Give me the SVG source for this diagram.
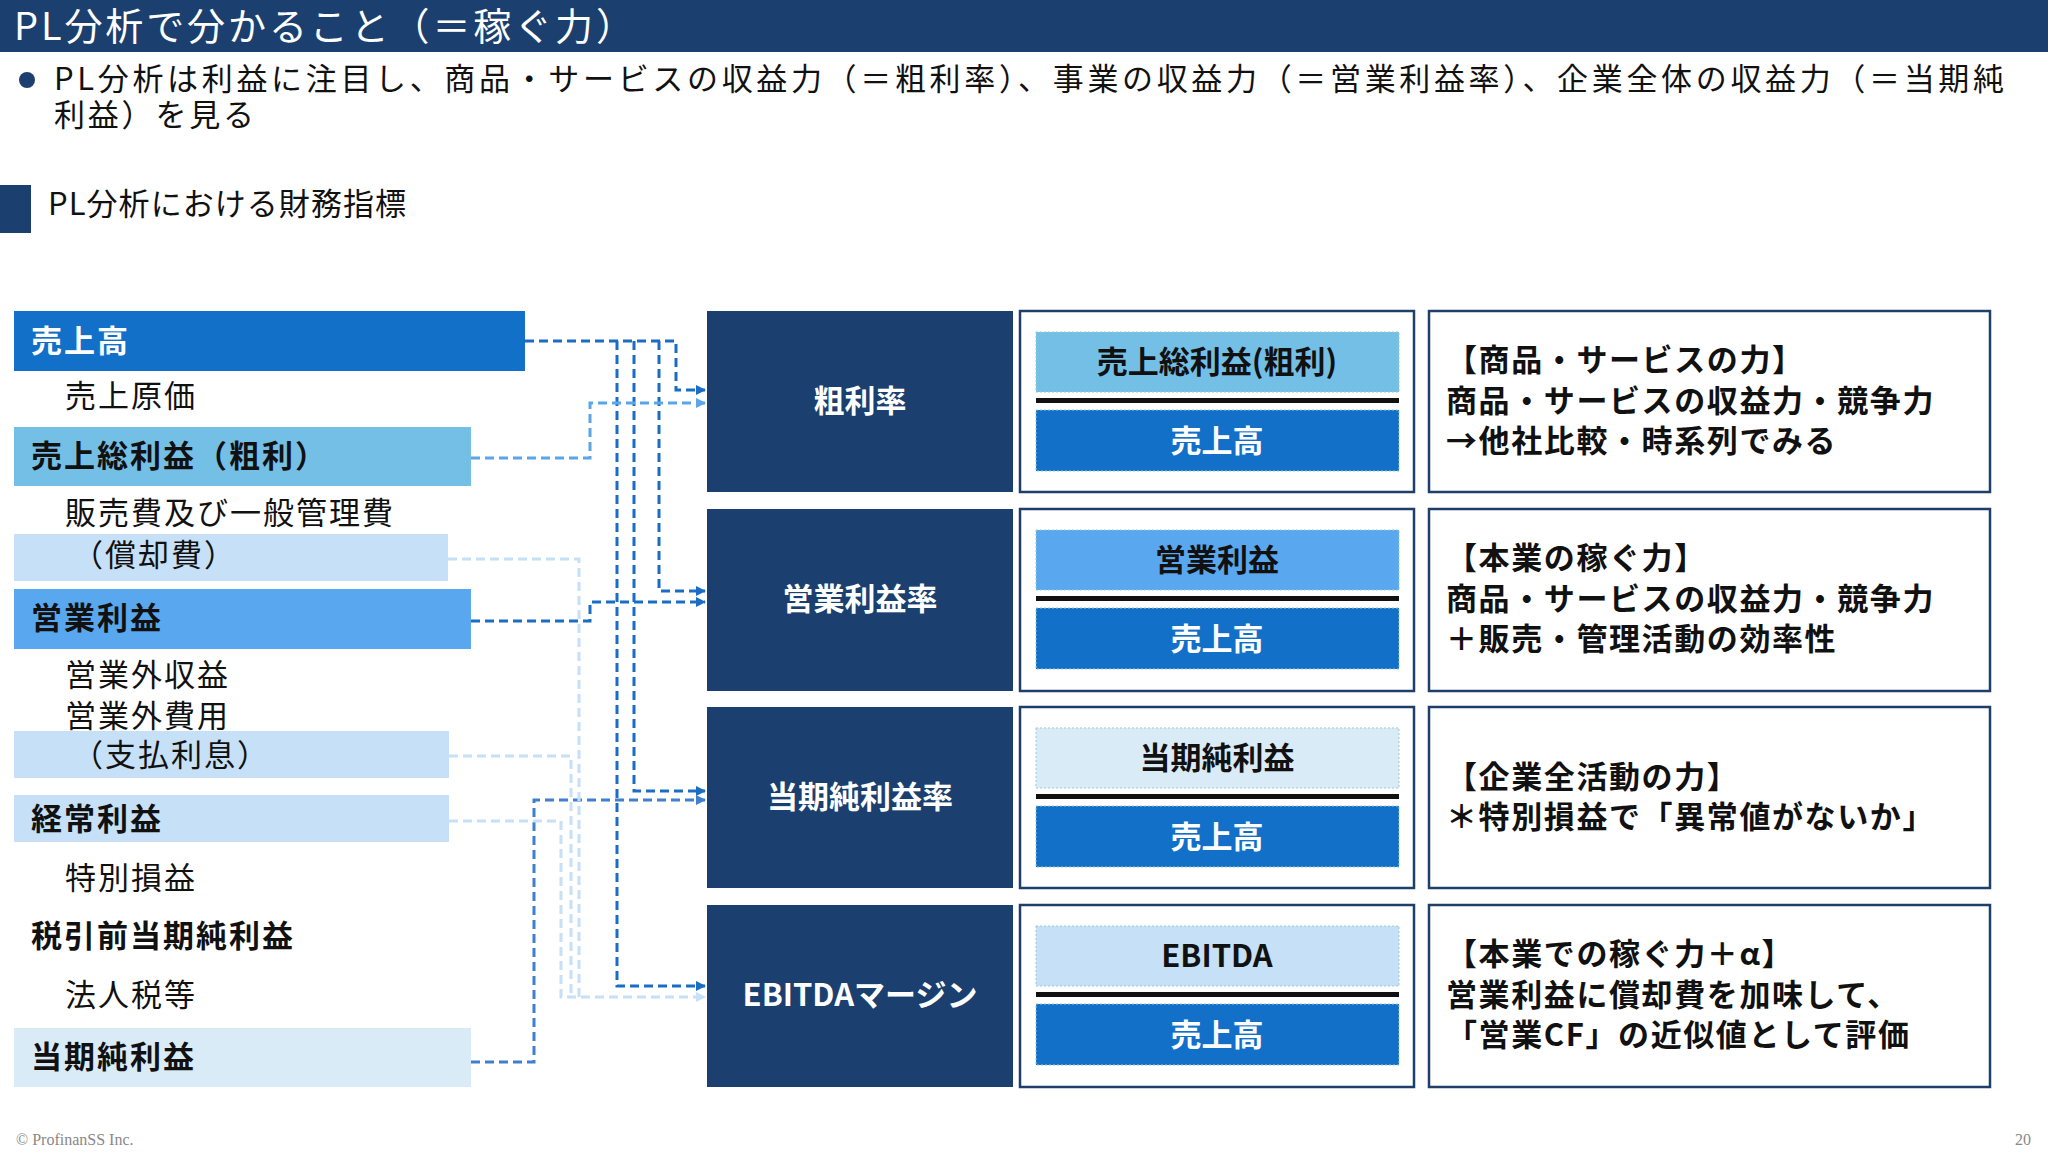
<svg xmlns="http://www.w3.org/2000/svg" width="2048" height="1152" viewBox="0 0 2048 1152">
<defs>
<style>
text{font-family:"Noto Sans CJK JP","Noto Sans",sans-serif}
.t{fill:#111;font-size:31px}
.b{font-weight:bold}
.w{fill:#fff}
.c{text-anchor:middle}
.ls{letter-spacing:2px}
.rs{letter-spacing:1.6px}
.dk{fill:#1b3f6e}
.mid{fill:#fff;stroke:#1f3f6b;stroke-width:2.5}
.ib{stroke:#9cc;stroke-width:1;stroke-dasharray:2 2}
.ln{fill:none;stroke-width:3;stroke-dasharray:9 5}
</style>
<marker id="a1" markerWidth="10" markerHeight="10" refX="9" refY="5" orient="auto" markerUnits="userSpaceOnUse"><path d="M0,0 L10,5 L0,10 z" fill="#1a6cc4"/></marker>
<marker id="a2" markerWidth="10" markerHeight="10" refX="9" refY="5" orient="auto" markerUnits="userSpaceOnUse"><path d="M0,0 L10,5 L0,10 z" fill="#5aa6e8"/></marker>
<marker id="a3" markerWidth="10" markerHeight="10" refX="9" refY="5" orient="auto" markerUnits="userSpaceOnUse"><path d="M0,0 L10,5 L0,10 z" fill="#c6e0f7"/></marker>
<marker id="a4" markerWidth="10" markerHeight="10" refX="9" refY="5" orient="auto" markerUnits="userSpaceOnUse"><path d="M0,0 L10,5 L0,10 z" fill="#3f7fd0"/></marker>
</defs>
<rect width="2048" height="1152" fill="#fff"/>
<g id="header">
<rect x="0" y="0" width="2048" height="52" fill="#1b3f6e"/>
<text x="14" y="40" class="w" font-size="38" textLength="620" lengthAdjust="spacing">PL分析で分かること（＝稼ぐ力）</text>
<circle cx="27" cy="80" r="8" fill="#1b3f6e"/>
<text x="54" y="90" class="t" textLength="1950" lengthAdjust="spacing">PL分析は利益に注目し、商品・サービスの収益力（＝粗利率）、事業の収益力（＝営業利益率）、企業全体の収益力（＝当期純</text>
<text x="54" y="126" class="t" textLength="200" lengthAdjust="spacing">利益）を見る</text>
<rect x="0" y="185" width="31" height="48" fill="#1b3f6e"/>
<text x="48" y="215" class="t" font-size="29" textLength="358" lengthAdjust="spacing">PL分析における財務指標</text>
</g>
<g id="pl-list">
<rect x="14" y="311" width="511" height="60" fill="#1270c8"/>
<text x="31" y="352" class="w b ls" font-size="31">売上高</text>
<text x="65" y="407" class="t ls">売上原価</text>
<rect x="14" y="427" width="457" height="59" fill="#74bfe6"/>
<text x="31" y="467" class="t b ls">売上総利益（粗利）</text>
<text x="65" y="524" class="t ls">販売費及び一般管理費</text>
<rect x="14" y="534" width="434" height="47" fill="#c6e0f7"/>
<text x="72" y="566" class="t ls">（償却費）</text>
<rect x="14" y="589" width="457" height="60" fill="#59a7ee"/>
<text x="31" y="629" class="t b ls">営業利益</text>
<text x="65" y="686" class="t ls">営業外収益</text>
<text x="65" y="727" class="t ls">営業外費用</text>
<rect x="14" y="731" width="435" height="47" fill="#c6e0f7"/>
<text x="72" y="766" class="t ls">（支払利息）</text>
<rect x="14" y="795" width="435" height="47" fill="#c6e0f7"/>
<text x="31" y="830" class="t b ls">経常利益</text>
<text x="65" y="889" class="t ls">特別損益</text>
<text x="31" y="947" class="t b ls">税引前当期純利益</text>
<text x="65" y="1006" class="t ls">法人税等</text>
<rect x="14" y="1028" width="457" height="59" fill="#daebf8"/>
<text x="31" y="1068" class="t b ls">当期純利益</text>
</g>
<g id="connectors">
<path class="ln" stroke="#1a6cc4" d="M525,341 H676 V390 H705" marker-end="url(#a1)"/>
<path class="ln" stroke="#1a6cc4" d="M659,341 V591 H705" marker-end="url(#a1)"/>
<path class="ln" stroke="#1a6cc4" d="M634,341 V791 H705" marker-end="url(#a1)"/>
<path class="ln" stroke="#1a6cc4" d="M617,341 V986 H705" marker-end="url(#a1)"/>
<path class="ln" stroke="#5aa6e8" d="M471,458 H590 V403 H705" marker-end="url(#a2)"/>
<path class="ln" stroke="#1a6cc4" d="M471,621 H590 V602 H705" marker-end="url(#a1)"/>
<path class="ln" stroke="#3f7fd0" d="M471,1062 H534 V800 H705" marker-end="url(#a4)"/>
<path class="ln" stroke="#c6e0f7" d="M448,559 H579 V997"/>
<path class="ln" stroke="#c6e0f7" d="M449,756 H571 V997"/>
<path class="ln" stroke="#c6e0f7" d="M449,821 H561 V997 H705" marker-end="url(#a3)"/>
</g>
<g id="row1">
<rect x="707" y="311" width="306" height="181" class="dk"/>
<text x="860" y="412" class="w b c" font-size="31">粗利率</text>
<rect x="1020" y="311" width="394" height="181" class="mid"/>
<rect x="1036" y="332" width="363" height="60" fill="#74bfe6" class="ib"/>
<text x="1217" y="373" class="t b c">売上総利益(粗利)</text>
<rect x="1036" y="398" width="363" height="5" fill="#111"/>
<rect x="1036" y="410" width="363" height="61" fill="#1270c8" class="ib"/>
<text x="1217" y="452" class="w b c" font-size="31">売上高</text>
<rect x="1429" y="311" width="561" height="181" class="mid"/>
<text x="1446" y="371" class="t b rs">【商品・サービスの力】</text>
<text x="1446" y="412" class="t b rs">商品・サービスの収益力・競争力</text>
<text x="1446" y="452" class="t b rs">→他社比較・時系列でみる</text>
</g>
<g id="row2">
<rect x="707" y="509" width="306" height="182" class="dk"/>
<text x="860" y="610" class="w b c" font-size="31">営業利益率</text>
<rect x="1020" y="509" width="394" height="182" class="mid"/>
<rect x="1036" y="530" width="363" height="60" fill="#59a7ee" class="ib"/>
<text x="1217" y="571" class="t b c">営業利益</text>
<rect x="1036" y="596" width="363" height="5" fill="#111"/>
<rect x="1036" y="608" width="363" height="61" fill="#1270c8" class="ib"/>
<text x="1217" y="650" class="w b c" font-size="31">売上高</text>
<rect x="1429" y="509" width="561" height="182" class="mid"/>
<text x="1446" y="569" class="t b rs">【本業の稼ぐ力】</text>
<text x="1446" y="610" class="t b rs">商品・サービスの収益力・競争力</text>
<text x="1446" y="650" class="t b rs">＋販売・管理活動の効率性</text>
</g>
<g id="row3">
<rect x="707" y="707" width="306" height="181" class="dk"/>
<text x="860" y="808" class="w b c" font-size="31">当期純利益率</text>
<rect x="1020" y="707" width="394" height="181" class="mid"/>
<rect x="1036" y="728" width="363" height="60" fill="#daebf8" class="ib"/>
<text x="1217" y="769" class="t b c">当期純利益</text>
<rect x="1036" y="794" width="363" height="5" fill="#111"/>
<rect x="1036" y="806" width="363" height="61" fill="#1270c8" class="ib"/>
<text x="1217" y="848" class="w b c" font-size="31">売上高</text>
<rect x="1429" y="707" width="561" height="181" class="mid"/>
<text x="1446" y="788" class="t b rs">【企業全活動の力】</text>
<text x="1446" y="828" class="t b rs">＊特別損益で「異常値がないか」</text>
</g>
<g id="row4">
<rect x="707" y="905" width="306" height="182" class="dk"/>
<text x="860" y="1006" class="w b c" font-size="31">EBITDAマージン</text>
<rect x="1020" y="905" width="394" height="182" class="mid"/>
<rect x="1036" y="926" width="363" height="60" fill="#c6e0f7" class="ib"/>
<text x="1217" y="967" class="t b c">EBITDA</text>
<rect x="1036" y="992" width="363" height="5" fill="#111"/>
<rect x="1036" y="1004" width="363" height="61" fill="#1270c8" class="ib"/>
<text x="1217" y="1046" class="w b c" font-size="31">売上高</text>
<rect x="1429" y="905" width="561" height="182" class="mid"/>
<text x="1446" y="965" class="t b rs">【本業での稼ぐ力＋α】</text>
<text x="1446" y="1006" class="t b rs">営業利益に償却費を加味して、</text>
<text x="1446" y="1046" class="t b rs">「営業CF」の近似値として評価</text>
</g>
<g id="footer">
<text x="16" y="1145" fill="#888" font-size="16" style="font-family:'Liberation Serif',serif">© ProfinanSS Inc.</text>
<text x="2031" y="1145" fill="#888" font-size="16" text-anchor="end" style="font-family:'Liberation Serif',serif">20</text>
</g>
</svg>
